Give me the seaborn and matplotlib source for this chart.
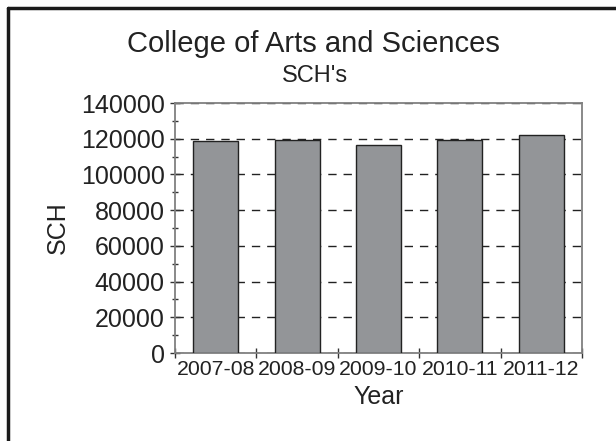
import matplotlib
matplotlib.use("Agg")
import matplotlib.pyplot as plt
import seaborn as sns
import pandas as pd
import numpy as np
from matplotlib.lines import Line2D
from matplotlib.ticker import MultipleLocator, FixedLocator

years = ["2007-08", "2008-09", "2009-10", "2010-11", "2011-12"]
sch = [118900, 119400, 116500, 119300, 122200]

sns.set_theme(style="white")
plt.rcParams['font.family'] = ['Liberation Sans', 'DejaVu Sans']

df = pd.DataFrame({"Year": years, "SCH": sch})

fig = plt.figure(figsize=(6.16, 4.41), dpi=100)
ax = fig.add_axes([0.2841, 0.1995, 0.9448 - 0.2841, 0.7664 - 0.1995])

sns.barplot(data=df, x="Year", y="SCH", ax=ax, color="#939598",
            edgecolor="#222222", linewidth=1.0, width=0.553, saturation=1, zorder=3)

ax.set_ylim(0, 140000)
ax.set_xlim(-0.5, 4.5)
ax.yaxis.set_major_locator(MultipleLocator(20000))
ax.yaxis.set_minor_locator(MultipleLocator(10000))
ax.grid(axis="y", which="major", linestyle=(0, (6, 5)), color="#222222", linewidth=1.0, zorder=0)
ax.set_axisbelow(True)

ax.xaxis.set_major_locator(FixedLocator(np.arange(len(years))))
ax.xaxis.set_minor_locator(FixedLocator(np.arange(-0.5, len(years) + 0.5, 1.0)))
ax.tick_params(axis="x", which="major", length=0, labelsize=15.3, pad=5, colors="#222222")
ax.tick_params(axis="x", which="minor", length=7, width=1.0, direction="inout", color="#333333", bottom=True)
ax.tick_params(axis="y", which="major", length=7, width=1.0, direction="inout", color="#333333", left=True, labelsize=18, pad=4, labelcolor="#222222")
ax.tick_params(axis="y", which="minor", length=4, width=1.0, direction="inout", color="#333333", left=True)

for s in ax.spines.values():
    s.set_color("#808080")
    s.set_linewidth(1.3)

ax.set_xlabel("Year", fontsize=18, color="#222222", labelpad=4)
ax.set_ylabel("SCH", fontsize=18, color="#222222", labelpad=8)

fig.text(0.509, 1 - 52 / 441, "College of Arts and Sciences", ha="center", va="baseline", fontsize=21, color="#222222")
fig.text(0.511, 1 - 82 / 441, "SCH's", ha="center", va="baseline", fontsize=17, color="#222222")

# outer frame (partial, cropped)
fig.add_artist(Line2D([0.0130, 0.0130], [0, 0.9819], transform=fig.transFigure, color="#1a1a1a", linewidth=2.5))
fig.add_artist(Line2D([0.0130, 1.0], [0.9819, 0.9819], transform=fig.transFigure, color="#1a1a1a", linewidth=2.5))

fig.savefig("out.png", dpi=100)
